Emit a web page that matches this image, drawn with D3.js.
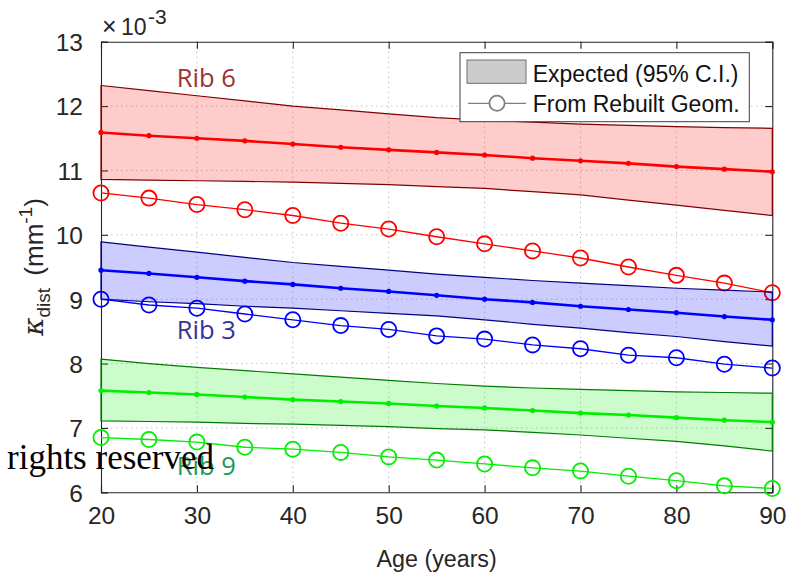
<!DOCTYPE html>
<html>
<head>
<meta charset="utf-8">
<script src="https://cdn.jsdelivr.net/npm/d3@7"></script>
<style>
  html, body { margin: 0; padding: 0; background: #fff; }
  svg { display: block; }
</style>
</head>
<body>
<svg id="chart" width="787" height="577"></svg>
<script>
// Age grid (years)
const ages = [20, 25, 30, 35, 40, 45, 50, 55, 60, 65, 70, 75, 80, 85, 90];

// Curvature values, in units of 1e-3 mm^-1
const rib6Mean    = [11.59, 11.54, 11.50, 11.46, 11.41, 11.36, 11.32, 11.28, 11.24, 11.19, 11.15, 11.11, 11.06, 11.02, 10.98];
const rib6Upper   = [12.32, 12.24, 12.16, 12.08, 12.00, 11.94, 11.88, 11.82, 11.78, 11.75, 11.72, 11.70, 11.68, 11.665, 11.655];
const rib6Lower   = [10.86, 10.85, 10.84, 10.83, 10.82, 10.80, 10.78, 10.75, 10.72, 10.67, 10.62, 10.54, 10.46, 10.38, 10.30];
const rib6Rebuilt = [10.65, 10.57, 10.47, 10.39, 10.30, 10.18, 10.09, 9.97, 9.86, 9.75, 9.64, 9.50, 9.37, 9.25, 9.10];

const rib3Mean    = [9.45, 9.40, 9.34, 9.28, 9.23, 9.17, 9.12, 9.06, 9.00, 8.95, 8.89, 8.84, 8.79, 8.73, 8.68];
const rib3Upper   = [9.89, 9.81, 9.73, 9.65, 9.57, 9.51, 9.45, 9.39, 9.34, 9.29, 9.25, 9.21, 9.17, 9.14, 9.11];
const rib3Lower   = [9.00, 8.96, 8.93, 8.89, 8.86, 8.82, 8.78, 8.74, 8.68, 8.61, 8.55, 8.48, 8.42, 8.34, 8.27];
const rib3Rebuilt = [9.00, 8.91, 8.86, 8.77, 8.68, 8.59, 8.53, 8.43, 8.38, 8.29, 8.23, 8.13, 8.09, 7.99, 7.93];

const rib9Mean    = [7.58, 7.55, 7.52, 7.48, 7.44, 7.41, 7.38, 7.34, 7.31, 7.27, 7.23, 7.20, 7.16, 7.12, 7.09];
const rib9Upper   = [8.07, 8.00, 7.94, 7.89, 7.84, 7.79, 7.74, 7.69, 7.65, 7.62, 7.60, 7.58, 7.56, 7.55, 7.54];
const rib9Lower   = [7.11, 7.10, 7.09, 7.07, 7.06, 7.04, 7.02, 6.99, 6.97, 6.93, 6.89, 6.84, 6.79, 6.72, 6.64];
const rib9Rebuilt = [6.85, 6.82, 6.78, 6.70, 6.67, 6.62, 6.55, 6.50, 6.44, 6.38, 6.33, 6.25, 6.18, 6.10, 6.06];

// Tick values
const xTicks = [20, 30, 40, 50, 60, 70, 80, 90];
const yTicks = [6, 7, 8, 9, 10, 11, 12, 13];

// Rib labels: name, anchor age, anchor value (baseline)
const ribLabels = [
  { text: "Rib 6", age: 27.9, value: 12.30, color: "#993333" },
  { text: "Rib 3", age: 27.9, value: 8.38,  color: "#333399" },
  { text: "Rib 9", age: 27.9, value: 6.27,  color: "#229955" }
];

const series = [
  { mean: rib6Mean, upper: rib6Upper, lower: rib6Lower, rebuilt: rib6Rebuilt, line: "#ff0000", edge: "#800000" },
  { mean: rib3Mean, upper: rib3Upper, lower: rib3Lower, rebuilt: rib3Rebuilt, line: "#0000ff", edge: "#000080" },
  { mean: rib9Mean, upper: rib9Upper, lower: rib9Lower, rebuilt: rib9Rebuilt, line: "#00ee00", edge: "#007a00" }
];

const svg = d3.select("#chart");
const L = 101, R = 772.3, T = 41.7, B = 492.3;
const x = d3.scaleLinear().domain([20, 90]).range([L, R]);
const y = d3.scaleLinear().domain([6, 13]).range([B, T]);
const axisColor = "#262626";
const font = "'Liberation Sans', Arial, Helvetica, sans-serif";

// Grid
const grid = svg.append("g");
grid.selectAll(".gx").data(xTicks.slice(1, -1)).join("line")
  .attr("x1", d => x(d)).attr("x2", d => x(d)).attr("y1", T).attr("y2", B)
  .attr("stroke", "#c4c4c4").attr("stroke-width", 1).attr("stroke-dasharray", "1.5,3.5");
grid.selectAll(".gy").data(yTicks.slice(1, -1)).join("line")
  .attr("x1", L).attr("x2", R).attr("y1", d => y(d)).attr("y2", d => y(d))
  .attr("stroke", "#c4c4c4").attr("stroke-width", 1).attr("stroke-dasharray", "1.5,3.5");

// Axes (box with inward ticks on all sides)
const tickLen = 7;
const axB = svg.append("g").attr("transform", `translate(0,${B})`)
  .call(d3.axisBottom(x).tickValues(xTicks).tickSize(-tickLen).tickPadding(14).tickFormat(d3.format("d")));
const axT = svg.append("g").attr("transform", `translate(0,${T})`)
  .call(d3.axisTop(x).tickValues(xTicks).tickSize(-tickLen).tickFormat(""));
const axL = svg.append("g").attr("transform", `translate(${L},0)`)
  .call(d3.axisLeft(y).tickValues(yTicks).tickSize(-tickLen).tickPadding(18).tickFormat(d3.format("d")));
const axR = svg.append("g").attr("transform", `translate(${R},0)`)
  .call(d3.axisRight(y).tickValues(yTicks).tickSize(-tickLen).tickFormat(""));
[axB, axT, axL, axR].forEach(a => {
  a.select(".domain").attr("stroke", axisColor).attr("stroke-width", 1.1);
  a.selectAll(".tick line").attr("stroke", axisColor).attr("stroke-width", 1.1);
  a.selectAll(".tick text").attr("fill", axisColor).style("font-family", font).style("font-size", "24.5px");
});
axB.selectAll(".tick text").attr("dy", "0.71em");
axL.selectAll(".tick text").attr("dy", "0.36em");

// Exponent label (×10^-3)
const expo = svg.append("g").attr("fill", axisColor).style("font-family", font);
expo.append("text").attr("x", 102).attr("y", 35).style("font-size", "25px").text("\u00d7");
expo.append("text").attr("x", 121).attr("y", 35).style("font-size", "23px").text("10");
expo.append("text").attr("x", 148).attr("y", 24).style("font-size", "21px").text("-3");

// Data layers
const lineGen = vals => d3.line().x((d, i) => x(ages[i])).y(d => y(d))(vals);
const bandGen = (lo, hi) => d3.area().x((d, i) => x(ages[i])).y0((d, i) => y(lo[i])).y1(d => y(d))(hi);

series.forEach(s => {
  const g = svg.append("g");
  g.append("path").attr("d", bandGen(s.lower, s.upper))
    .attr("fill", s.line).attr("fill-opacity", 0.2).attr("stroke", "none");
  g.append("path").attr("d", bandGen(s.lower, s.upper))
    .attr("fill", "none").attr("stroke", s.edge).attr("stroke-width", 1.2);
  g.append("path").attr("d", lineGen(s.mean))
    .attr("fill", "none").attr("stroke", s.line).attr("stroke-width", 2.6);
  g.selectAll(".dot").data(s.mean).join("circle")
    .attr("cx", (d, i) => x(ages[i])).attr("cy", d => y(d)).attr("r", 2.6).attr("fill", s.line);
  g.append("path").attr("d", lineGen(s.rebuilt))
    .attr("fill", "none").attr("stroke", s.line).attr("stroke-width", 1.3);
  g.selectAll(".ring").data(s.rebuilt).join("circle")
    .attr("cx", (d, i) => x(ages[i])).attr("cy", d => y(d)).attr("r", 7.6)
    .attr("fill", "none").attr("stroke", s.line).attr("stroke-width", 1.8);
});

// Rib labels
svg.selectAll(".ribLabel").data(ribLabels).join("text")
  .attr("x", d => x(d.age)).attr("y", d => y(d.value))
  .attr("fill", d => d.color)
  .style("font-family", "'Open Sans', 'Noto Sans', sans-serif").style("font-size", "25.5px")
  .text(d => d.text);

// Axis titles
svg.append("text").attr("transform", `translate(${(L + R) / 2},567) scale(0.95,1)`)
  .attr("text-anchor", "middle")
  .attr("fill", axisColor).style("font-family", font).style("font-size", "24.5px")
  .text("Age (years)");

const yl = svg.append("text").attr("transform", `translate(43,${(T + B) / 2}) rotate(-90)`)
  .attr("text-anchor", "middle").attr("fill", axisColor)
  .style("font-family", font).style("font-size", "26px");
yl.append("tspan").text("\u03ba").style("font-family", "'DejaVu Serif', serif").style("font-style", "italic").style("font-size", "28px");
yl.append("tspan").text("dist").attr("dy", 7).style("font-size", "19px");
yl.append("tspan").text(" (mm").attr("dy", -7).attr("dx", 5);
yl.append("tspan").text("-1").attr("dy", -11).style("font-size", "19px");
yl.append("tspan").text(")").attr("dy", 11);

// Legend
const lg = svg.append("g");
lg.append("rect").attr("x", 460).attr("y", 52.7).attr("width", 289.3).attr("height", 69)
  .attr("fill", "#ffffff").attr("stroke", "#3c3c3c").attr("stroke-width", 1);
lg.append("rect").attr("x", 467).attr("y", 60).attr("width", 59).attr("height", 23.3)
  .attr("fill", "#cccccc").attr("stroke", "#707070").attr("stroke-width", 1);
lg.append("line").attr("x1", 468).attr("x2", 526).attr("y1", 103.3).attr("y2", 103.3)
  .attr("stroke", "#808080").attr("stroke-width", 1.3);
lg.append("circle").attr("cx", 497).attr("cy", 103.3).attr("r", 7.6)
  .attr("fill", "#ffffff").attr("stroke", "#808080").attr("stroke-width", 1.8);
lg.append("text").attr("x", 532.7).attr("y", 81.5).attr("fill", "#111")
  .style("font-family", font).style("font-size", "23px").text("Expected (95% C.I.)");
lg.append("text").attr("x", 532.7).attr("y", 111.5).attr("fill", "#111")
  .style("font-family", font).style("font-size", "23px").text("From Rebuilt Geom.");

// Overlaid notice text
svg.append("text").attr("x", 7).attr("y", 469.3).attr("fill", "#000")
  .style("font-family", "'Liberation Serif', 'Times New Roman', serif").style("font-size", "35px")
  .text("rights reserved");
</script>
</body>
</html>
